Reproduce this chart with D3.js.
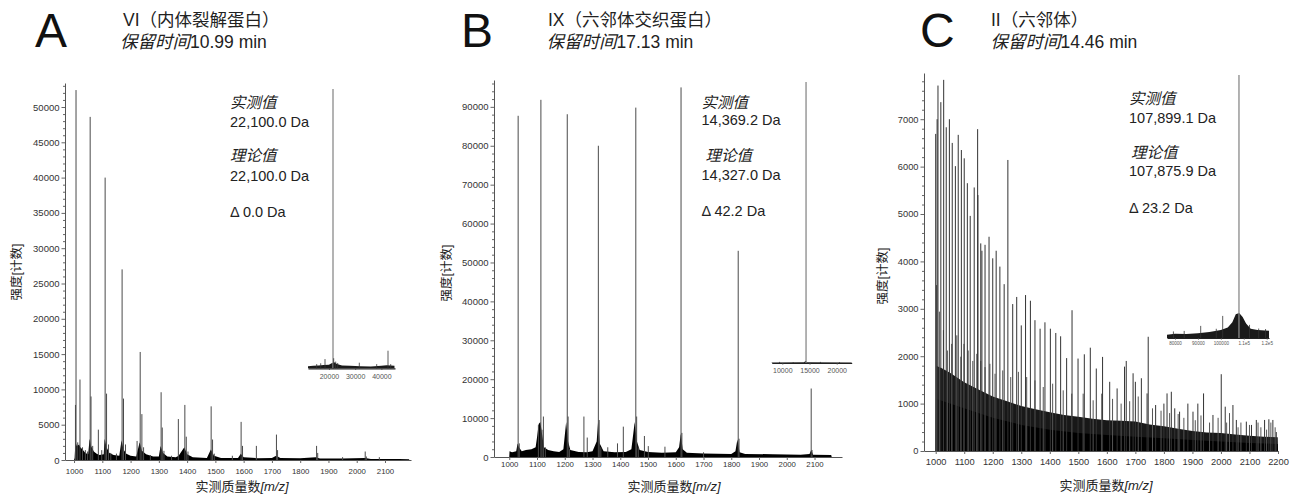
<!DOCTYPE html>
<html>
<head>
<meta charset="utf-8">
<script src="https://cdn.jsdelivr.net/npm/d3@7"></script>
<style>
  body { margin: 0; background: #fff; }
  text { font-family: "Liberation Sans", "Noto Sans CJK SC", sans-serif; }
</style>
</head>
<body>
<svg id="chart" width="1293" height="497"></svg>
<script>
// ---------- data: [m/z, intensity] ----------
const aPeaks = [
  [1005, 7800], [1007, 52400], [1013, 2500], [1021, 11400], [1030, 1800], [1040, 1400], [1048, 1200],
  [1057, 48600], [1060, 9000], [1066, 2000], [1086, 4300], [1098, 1400],
  [1110, 40000], [1115, 9400], [1122, 2200], [1130, 1000], [1150, 900],
  [1170, 27000], [1175, 8700], [1182, 2200], [1223, 2700],
  [1234, 15300], [1240, 6500], [1246, 1800], [1270, 700],
  [1308, 9600], [1312, 4600], [1318, 1300], [1345, 600],
  [1369, 5800], [1392, 7800], [1397, 3300], [1403, 1200],
  [1485, 7600], [1490, 2900], [1496, 900], [1560, 600],
  [1591, 5400], [1596, 2000], [1645, 2000],
  [1716, 3600], [1720, 1400], [1858, 2000], [1862, 1000], [1950, 400],
  [2030, 1200], [2034, 500], [2080, 400]
];
const aNoise = [
  [1000, 0], [1002, 300], [1005, 2500], [1010, 2000], [1018, 2200], [1022, 1800], [1030, 1500], [1040, 1000],
  [1050, 800], [1055, 3000], [1060, 2000], [1070, 1200], [1080, 900], [1090, 700], [1105, 800], [1108, 3000],
  [1115, 1800], [1125, 1000], [1140, 700], [1160, 600], [1168, 2800], [1175, 1500], [1185, 900], [1200, 600],
  [1220, 500], [1232, 2500], [1240, 1300], [1255, 800], [1280, 500], [1300, 500], [1306, 2000], [1315, 1000],
  [1330, 500], [1360, 400], [1370, 600], [1390, 1800], [1400, 800], [1420, 400], [1470, 300], [1484, 1500],
  [1495, 600], [1520, 300], [1580, 300], [1590, 900], [1600, 400], [1650, 250], [1700, 300], [1715, 600],
  [1730, 300], [1800, 250], [1855, 400], [1870, 200], [1950, 200], [2030, 300], [2050, 150], [2150, 150],
  [2185, 100], [2186, 0]
];
const aInsetPeaks = [
  [21540, 100], [15320, 1.5], [16850, 1.8], [18490, 3.3], [21800, 3.6], [22570, 2.4], [23330, 1.9],
  [31580, 2.0], [38220, 1.5], [42530, 6.3], [43560, 1.5]
];
const aInsetNoise = [
  [12000, 0], [12000, 0.7], [14000, 0.9], [16000, 1.0], [18000, 1.2], [20000, 1.3], [21000, 1.8], [22000, 2.2],
  [23000, 1.5], [25000, 1.0], [28000, 0.9], [32000, 0.7], [36000, 0.6], [40000, 0.9], [42000, 1.1], [45000, 0.9], [45000, 0]
];

const bPeaks = [
  [1032, 87700], [1036, 3500], [1105, 8200], [1114, 91800], [1118, 7000], [1123, 10400], [1130, 2500],
  [1209, 88100], [1212, 10400], [1217, 2000], [1269, 10400], [1281, 5000],
  [1321, 80000], [1324, 9500], [1330, 2500], [1355, 2500], [1390, 3500], [1411, 7800],
  [1456, 89800], [1459, 10400], [1465, 2500], [1487, 5400], [1501, 2800], [1561, 2650],
  [1619, 95000], [1622, 6200], [1700, 1200], [1825, 53000], [1828, 4700], [2088, 17600], [2091, 1800]
];
const bNoise = [
  [1000, 0], [1001, 1500], [1010, 1200], [1025, 1500], [1030, 3500], [1035, 2500], [1045, 1500], [1060, 1800],
  [1080, 2000], [1095, 2500], [1100, 5000], [1106, 8500], [1112, 9000], [1118, 6000], [1125, 2500], [1140, 1800],
  [1160, 1500], [1180, 1300], [1195, 2000], [1205, 9000], [1212, 4000], [1220, 1800], [1250, 1300], [1280, 1200],
  [1300, 1500], [1315, 4000], [1320, 9000], [1326, 3500], [1340, 1500], [1380, 1200], [1420, 1300], [1440, 2000],
  [1452, 9000], [1460, 4000], [1470, 1800], [1500, 1300], [1550, 1100], [1600, 1200], [1612, 2500], [1618, 6000],
  [1625, 2000], [1640, 1100], [1700, 900], [1800, 800], [1815, 1500], [1822, 4500], [1830, 1200], [1850, 800],
  [1950, 700], [2050, 600], [2082, 800], [2088, 1800], [2095, 600], [2160, 500], [2162, 0]
];
const bInsetPeaks = [[14360, 100], [9500, 0.4], [12000, 0.3], [17000, 0.4], [20500, 0.3]];
const bInsetNoise = [[8050, 0], [8050, 0.2], [14000, 0.3], [14300, 0.8], [14500, 0.3], [22750, 0.2], [22750, 0]];

const cPeaks = [
  [1000, 6690], [1005, 7000], [1008, 7710], [1018, 7360], [1028, 7830], [1037, 6830], [1048, 7000], [1058, 6500],
  [1069, 6010], [1079, 6670], [1090, 6350], [1100, 6175], [1111, 5650], [1121, 4960], [1135, 5560], [1147, 6790],
  [1148, 5400], [1158, 4380], [1162, 4225], [1173, 4350], [1187, 4520], [1200, 4065], [1212, 4225], [1225, 3890],
  [1240, 3520], [1253, 6140], [1270, 3100], [1284, 3250], [1300, 2650], [1315, 3290], [1332, 3170], [1348, 2760],
  [1366, 2580], [1383, 2715], [1402, 2580], [1421, 2490], [1438, 2420], [1459, 1960], [1478, 2970], [1499, 1950],
  [1521, 2040], [1542, 2180], [1563, 1740], [1585, 1985], [1610, 1460], [1636, 1320], [1662, 1780], [1668, 1900],
  [1692, 1640], [1700, 1460], [1721, 1535], [1741, 1215], [1745, 2410], [1771, 970], [1800, 1000], [1811, 1215],
  [1826, 1250], [1838, 900], [1855, 830], [1884, 1000], [1902, 830], [1919, 1000], [1939, 1215], [1972, 760],
  [2001, 1620], [2015, 935], [2042, 970], [2054, 655], [2089, 620], [2107, 550], [2124, 655], [2153, 655],
  [2168, 670], [2182, 655], [2194, 400]
];
const cMinor = [
  [1003, 3500], [1013, 2940], [1027, 2550], [1041, 2120], [1056, 2260], [1074, 2440], [1088, 1990], [1099, 2260],
  [1114, 2120], [1130, 1900], [1144, 2050], [1158, 1900], [1173, 1770], [1190, 1840], [1208, 1630], [1235, 1700],
  [1263, 1560], [1290, 1670], [1319, 1560], [1348, 1490], [1377, 1350], [1410, 1420], [1447, 1280], [1477, 1210],
  [1517, 1210], [1552, 1070], [1582, 1210], [1620, 1100], [1650, 1000], [1680, 1050], [1710, 1150], [1760, 900],
  [1790, 850], [1820, 800], [1850, 780], [1870, 700], [1910, 650], [1930, 750], [1960, 600], [1990, 700],
  [2020, 600], [2030, 800], [2060, 500], [2070, 600], [2100, 550], [2130, 600], [2140, 500], [2160, 450],
  [2175, 600], [2190, 500]
];
const cNoiseHigh = [
  [1000, 0], [1001, 1800], [1020, 1750], [1050, 1650], [1100, 1450], [1150, 1300], [1200, 1150], [1250, 1050],
  [1300, 950], [1350, 880], [1400, 820], [1450, 760], [1500, 720], [1550, 680], [1600, 650], [1650, 640],
  [1700, 620], [1750, 560], [1800, 520], [1850, 470], [1900, 420], [1950, 390], [2000, 380], [2050, 350],
  [2100, 320], [2150, 300], [2199, 290], [2200, 0]
];
const cNoiseLow = [
  [1000, 0], [1001, 1100], [1050, 1000], [1100, 900], [1150, 800], [1200, 700], [1300, 550], [1400, 450],
  [1500, 380], [1600, 340], [1700, 300], [1800, 270], [1900, 230], [2000, 200], [2100, 170], [2199, 150], [2200, 0]
];
const cInsetPeaks = [
  [107900, 100], [100800, 8.4], [91200, 4.6], [79300, 2.5], [84000, 2.7], [98000, 3.5], [112500, 5], [116500, 3.6], [119500, 3.4]
];
const cInsetNoise = [
  [76500, 0], [76500, 1.2], [80000, 1.6], [85000, 1.5], [90000, 1.8], [95000, 2.3], [100000, 3], [103000, 4],
  [105000, 6], [106500, 9], [108000, 9.5], [109500, 8], [111000, 5.5], [113000, 3.5], [116000, 3], [121000, 2.8], [121000, 0]
];

// ---------- tick values and labels ----------
const xTicksAB = [1000, 1100, 1200, 1300, 1400, 1500, 1600, 1700, 1800, 1900, 2000, 2100];
const xTicksC = [1000, 1100, 1200, 1300, 1400, 1500, 1600, 1700, 1800, 1900, 2000, 2100, 2200];
const yTicksA = [0, 5000, 10000, 15000, 20000, 25000, 30000, 35000, 40000, 45000, 50000];
const yTicksB = [0, 10000, 20000, 30000, 40000, 50000, 60000, 70000, 80000, 90000];
const yTicksC = [0, 1000, 2000, 3000, 4000, 5000, 6000, 7000];
const aInsetTicks = [20000, 30000, 40000];
const bInsetTicks = [10000, 15000, 20000];
const cInsetTicks = [80000, 90000, 100000, 110000, 120000];
const cInsetTickLabels = ['80000', '90000', '100000', '1.1e5', '1.2e5'];

// ---------- text ----------
const letters = ['A', 'B', 'C'];
const titles = ['VI（内体裂解蛋白）', 'IX（六邻体交织蛋白）', 'II（六邻体）'];
const retention = ['10.99 min', '17.13 min', '14.46 min'];
const measured = ['22,100.0 Da', '14,369.2 Da', '107,899.1 Da'];
const theoretical = ['22,100.0 Da', '14,327.0 Da', '107,875.9 Da'];
const deltas = ['Δ 0.0 Da', 'Δ 42.2 Da', 'Δ 23.2 Da'];

// ---------- layout ----------
const panels = [
  {
    peaks: aPeaks, noise: [aNoise], minor: [], xDomain: [968, 2192], yMax: 53400, xTicks: xTicksAB, yTicks: yTicksA, yStep: 1000,
    left: 65, right: 411, top: 83, bottom: 460, xfs: 7.8, yfs: 9.5, xPad: 5, stick: '#4a4a4a',
    letterX: 35, titleX: 123, title2X: 120, yTitleX: 17, yTitleY: 272, xTitleX: 242, xTitleY: 491,
    note: { x: 230, x2: 230, y: [107.5, 127, 161, 181, 217] },
    inset: { peaks: aInsetPeaks, noise: aInsetNoise, domain: [12000, 45200], x0: 308, x1: 395, base: 368.3, top: 89, ticks: aInsetTicks, fs: 7, pad: 4 }
  },
  {
    peaks: bPeaks, noise: [bNoise], minor: [], xDomain: [945, 2199], yMax: 96900, xTicks: xTicksAB, yTicks: yTicksB, yStep: 2000,
    left: 494, right: 842, top: 80, bottom: 457, xfs: 7.8, yfs: 9.5, xPad: 1, stick: '#4a4a4a',
    letterX: 461, titleX: 548, title2X: 546.5, yTitleX: 447, yTitleY: 273, xTitleX: 674, xTitleY: 491,
    note: { x: 701.5, x2: 705.5, y: [107.5, 125, 161, 179.5, 216] },
    inset: { peaks: bInsetPeaks, noise: bInsetNoise, domain: [8050, 22750], x0: 771.7, x1: 851.7, base: 363, top: 82, ticks: bInsetTicks, fs: 7, pad: 4 }
  },
  {
    peaks: cPeaks, noise: [cNoiseHigh, cNoiseLow], minor: cMinor, xDomain: [959, 2200], yMax: 7975, xTicks: xTicksC, yTicks: yTicksC, yStep: 200,
    left: 924, right: 1278, top: 73, bottom: 451, xfs: 9.3, yfs: 9.3, xPad: 4, stick: '#333',
    letterX: 920, titleX: 991, title2X: 990.5, yTitleX: 883, yTitleY: 276, xTitleX: 1106, xTitleY: 490,
    note: { x: 1129, x2: 1131, y: [103.5, 122.5, 157.5, 176, 212.5] },
    inset: { peaks: cInsetPeaks, noise: cInsetNoise, domain: [76500, 121000], x0: 1167, x1: 1269, base: 338, top: 75, ticks: cInsetTicks, labels: cInsetTickLabels, fs: 4.6, pad: 2.5 }
  }
];

const svg = d3.select('#chart');
const noiseFills = ['#181818', '#000'];

const drawInset = (g, s) => {
  const x = d3.scaleLinear().domain(s.domain).range([s.x0, s.x1]);
  const y = d3.scaleLinear().domain([0, 100]).range([s.base, s.top]);
  g.append('path').datum(s.noise)
    .attr('d', d3.area().x(d => x(d[0])).y0(y(0)).y1(d => y(d[1])))
    .attr('fill', '#1a1a1a');
  g.selectAll(null).data(s.peaks).join('line')
    .attr('x1', d => x(d[0])).attr('x2', d => x(d[0]))
    .attr('y1', y(0)).attr('y2', d => y(d[1]))
    .attr('stroke', (d, i) => i === 0 ? '#8a8a8a' : '#333')
    .attr('stroke-width', (d, i) => i === 0 ? 1.3 : 0.8);
  const axis = d3.axisBottom(x).tickValues(s.ticks).tickSize(1.5).tickSizeOuter(0).tickPadding(s.pad)
    .tickFormat((d, i) => s.labels ? s.labels[i] : d3.format('d')(d));
  const ax = g.append('g').attr('transform', `translate(0,${s.base})`).call(axis);
  ax.select('.domain').attr('stroke', '#222').attr('stroke-width', 1.2);
  ax.selectAll('.tick line').attr('stroke', '#444');
  ax.selectAll('text').attr('font-size', s.fs).attr('fill', '#555').attr('font-family', null);
};

const drawPanel = (p, i) => {
  const g = svg.append('g');
  const x = d3.scaleLinear().domain(p.xDomain).range([p.left, p.right]);
  const y = d3.scaleLinear().domain([0, p.yMax]).range([p.bottom, p.top]);

  // dense baseline noise
  p.noise.forEach((series, k) => {
    g.append('path').datum(series)
      .attr('d', d3.area().x(d => x(d[0])).y0(y(0)).y1(d => y(d[1])))
      .attr('fill', noiseFills[p.noise.length === 1 ? 1 : k]);
  });
  // sticks
  g.selectAll('line.minor').data(p.minor).join('line').attr('class', 'minor')
    .attr('x1', d => x(d[0])).attr('x2', d => x(d[0]))
    .attr('y1', y(0)).attr('y2', d => y(d[1]))
    .attr('stroke', '#555').attr('stroke-width', 1);
  g.selectAll('line.pk').data(p.peaks).join('line').attr('class', 'pk')
    .attr('x1', d => x(d[0])).attr('x2', d => x(d[0]))
    .attr('y1', y(0)).attr('y2', d => y(d[1]))
    .attr('stroke', p.stick).attr('stroke-width', 1);

  // axes
  const xAxis = g.append('g').attr('transform', `translate(0,${p.bottom})`)
    .call(d3.axisBottom(x).tickValues(p.xTicks).tickSize(3).tickSizeOuter(0).tickPadding(p.xPad).tickFormat(d3.format('d')));
  xAxis.selectAll('text').attr('font-size', p.xfs).attr('fill', '#333').attr('font-family', null);

  const minorTicks = d3.range(0, p.yMax, p.yStep).filter(v => !p.yTicks.includes(v));
  g.append('g').attr('transform', `translate(${p.left},0)`)
    .call(d3.axisLeft(y).tickValues(minorTicks).tickSize(2).tickSizeOuter(0).tickFormat(''))
    .select('.domain').remove();
  const yAxis = g.append('g').attr('transform', `translate(${p.left},0)`)
    .call(d3.axisLeft(y).tickValues(p.yTicks).tickSize(3.5).tickSizeOuter(0).tickPadding(2).tickFormat(d3.format('d')));
  yAxis.selectAll('text').attr('font-size', p.yfs).attr('fill', '#333').attr('font-family', null);
  [xAxis, yAxis].forEach(a => a.selectAll('.domain').attr('stroke', '#555'));
  g.selectAll('.tick line').attr('stroke', '#666');

  // axis titles
  const xt = g.append('text').attr('x', p.xTitleX).attr('y', p.xTitleY)
    .attr('text-anchor', 'middle').attr('font-size', 13).attr('fill', '#222');
  xt.append('tspan').text('实测质量数');
  xt.append('tspan').attr('font-style', 'italic').text('[m/z]');
  g.append('text').attr('transform', `translate(${p.yTitleX + 4},${p.yTitleY}) rotate(-90)`)
    .attr('text-anchor', 'middle').attr('font-size', 12.5).attr('fill', '#222').text('强度[计数]');

  // panel heading
  g.append('text').attr('x', p.letterX).attr('y', 46.5).attr('font-size', 48).attr('fill', '#111').text(letters[i]);
  g.append('text').attr('x', p.titleX).attr('y', 25.5).attr('font-size', 17.5).attr('fill', '#222').text(titles[i]);
  const t2 = g.append('text').attr('x', p.title2X).attr('y', 48).attr('font-size', 17.5).attr('fill', '#222');
  t2.append('tspan').attr('font-style', 'italic').text('保留时间');
  t2.append('tspan').text(retention[i]);

  // mass annotation
  const n = p.note;
  const lines = [
    { t: '实测值', x: n.x, cjk: true }, { t: measured[i], x: n.x },
    { t: '理论值', x: n.x2, cjk: true }, { t: theoretical[i], x: n.x },
    { t: deltas[i], x: n.x }
  ];
  g.selectAll('text.note').data(lines).join('text').attr('class', 'note')
    .attr('x', d => d.x).attr('y', (d, k) => n.y[k])
    .attr('font-size', d => d.cjk ? 15.5 : 14.5)
    .attr('font-style', d => d.cjk ? 'italic' : null)
    .attr('fill', '#222').text(d => d.t);

  drawInset(g, p.inset);
};

panels.forEach(drawPanel);
</script>
</body>
</html>
